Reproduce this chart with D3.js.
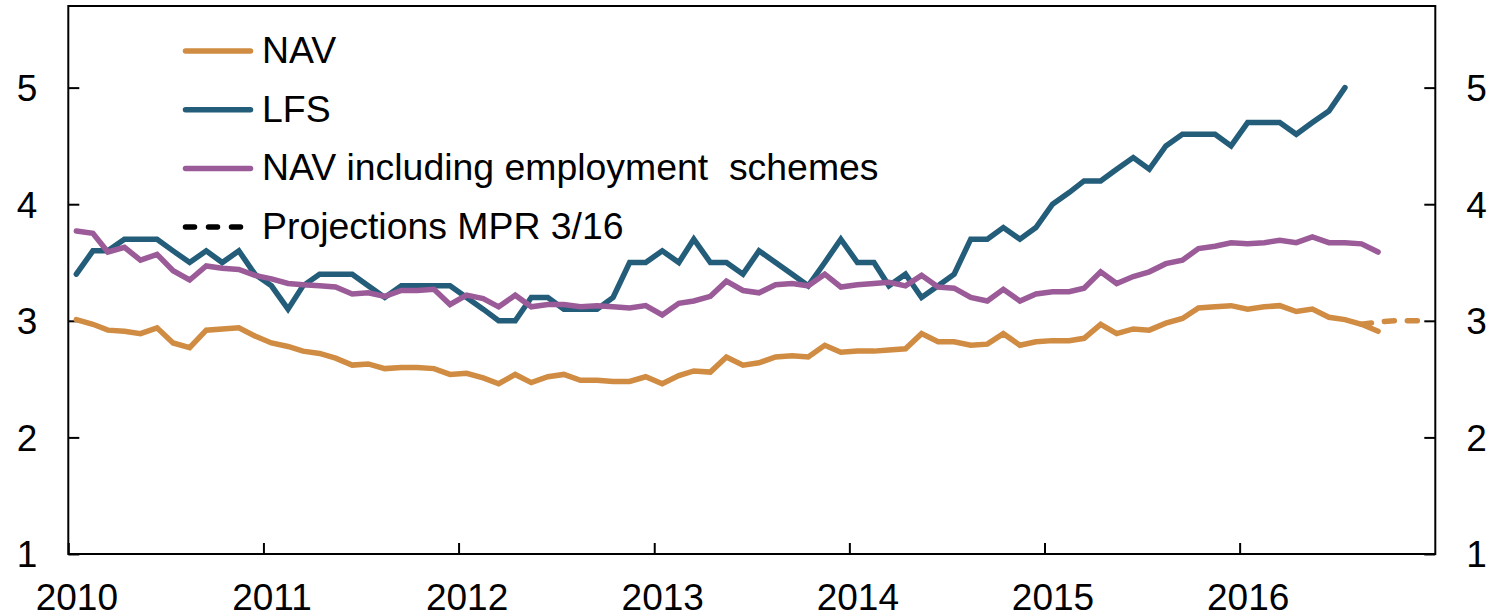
<!DOCTYPE html>
<html>
<head>
<meta charset="utf-8">
<script src="https://cdnjs.cloudflare.com/ajax/libs/d3/7.8.5/d3.min.js"></script>
<style>
  body { margin: 0; background: #fff; }
  svg { display: block; font-family: Arial, "Liberation Sans", sans-serif; }
</style>
</head>
<body>
<div id="chart"></div>
<script>
// monthly values, starting January 2010
var navValues = [3.01, 2.97, 2.92, 2.91, 2.89, 2.94, 2.81, 2.77, 2.92, 2.93, 2.94, 2.87,
  2.81, 2.78, 2.74, 2.72, 2.68, 2.62, 2.63, 2.59, 2.60, 2.60, 2.59, 2.54,
  2.55, 2.51, 2.46, 2.54, 2.47, 2.52, 2.54, 2.49, 2.49, 2.48, 2.48, 2.52,
  2.46, 2.53, 2.57, 2.56, 2.69, 2.62, 2.64, 2.69, 2.70, 2.69, 2.79, 2.73,
  2.74, 2.74, 2.75, 2.76, 2.89, 2.82, 2.82, 2.79, 2.80, 2.89, 2.79, 2.82,
  2.83, 2.83, 2.85, 2.97, 2.89, 2.93, 2.92, 2.98, 3.02, 3.11, 3.12, 3.13,
  3.10, 3.12, 3.13, 3.08, 3.10, 3.03, 3.01, 2.97, 2.91];

var lfsValues = [3.4, 3.6, 3.6, 3.7, 3.7, 3.7, 3.6, 3.5, 3.6, 3.5, 3.6, 3.4,
  3.3, 3.1, 3.3, 3.4, 3.4, 3.4, 3.3, 3.2, 3.3, 3.3, 3.3, 3.3,
  3.2, 3.1, 3.0, 3.0, 3.2, 3.2, 3.1, 3.1, 3.1, 3.2, 3.5, 3.5,
  3.6, 3.5, 3.7, 3.5, 3.5, 3.4, 3.6, 3.5, 3.4, 3.3, 3.5, 3.7,
  3.5, 3.5, 3.3, 3.4, 3.2, 3.3, 3.4, 3.7, 3.7, 3.8, 3.7, 3.8,
  4.0, 4.1, 4.2, 4.2, 4.3, 4.4, 4.3, 4.5, 4.6, 4.6, 4.6, 4.5,
  4.7, 4.7, 4.7, 4.6, 4.7, 4.8, 5.0];

var schemeValues = [3.77, 3.75, 3.59, 3.63, 3.52, 3.57, 3.43, 3.35, 3.47, 3.45, 3.44, 3.39,
  3.36, 3.32, 3.31, 3.30, 3.29, 3.23, 3.24, 3.21, 3.26, 3.26, 3.27, 3.14,
  3.22, 3.19, 3.12, 3.22, 3.12, 3.14, 3.14, 3.12, 3.13, 3.12, 3.11, 3.13,
  3.05, 3.15, 3.17, 3.21, 3.34, 3.26, 3.24, 3.31, 3.32, 3.30, 3.40, 3.29,
  3.31, 3.32, 3.33, 3.30, 3.39, 3.29, 3.28, 3.20, 3.17, 3.27, 3.17, 3.23,
  3.25, 3.25, 3.28, 3.42, 3.32, 3.38, 3.42, 3.49, 3.52, 3.62, 3.64, 3.67,
  3.66, 3.67, 3.69, 3.67, 3.72, 3.67, 3.67, 3.66, 3.59];

// projections MPR 3/16, August to December 2016
var projStart = 79;
var projValues = [2.97, 2.99, 3.00, 3.00, 3.00];

var yearTicks = [2010, 2011, 2012, 2013, 2014, 2015, 2016];
var yTicks = [1, 2, 3, 4, 5];

var legendNames = ["NAV", "LFS", "NAV including employment  schemes", "Projections MPR 3/16"];
var colors = ["#d08c42", "#235d7a", "#9a5b98", "#000000"];

var svgWidth = 1492;
var svgHeight = 615;

var margin = {
  top: 6,
  right: 56.7,
  bottom: 61,
  left: 68.3
};

var width = svgWidth - margin.left - margin.right;
var height = svgHeight - margin.top - margin.bottom;

var svg = d3.select("#chart")
  .append("svg")
  .attr("width", svgWidth)
  .attr("height", svgHeight);

var chartGroup = svg.append("g")
  .attr("transform", `translate(${margin.left}, ${margin.top})`);

var xScale = d3.scaleTime()
  .domain([new Date(2010, 0, 1), new Date(2017, 0, 1)])
  .range([0, width]);

var yScale = d3.scaleLinear()
  .domain([1, 5.7])
  .range([height, 0]);

// points sit in the middle of each month
function monthDate(i) {
  return new Date(2010, i, 16);
}

function toPoints(values, start) {
  return values.map(function(v, i) {
    return { date: monthDate(start + i), value: v };
  });
}

var line = d3.line()
  .x(d => xScale(d.date))
  .y(d => yScale(d.value));

var fontSize = "37px";
var lineWidth = 5.5;

// axes
var bottomAxis = d3.axisBottom(xScale)
  .tickValues(yearTicks.map(y => new Date(y, 0, 1)))
  .tickFormat(d3.timeFormat("%Y"))
  .tickSize(-11)
  .tickSizeOuter(0);

var leftAxis = d3.axisLeft(yScale)
  .tickValues(yTicks)
  .tickFormat(d3.format("d"))
  .tickSize(-11)
  .tickPadding(31)
  .tickSizeOuter(0);

var rightAxis = d3.axisRight(yScale)
  .tickValues(yTicks)
  .tickFormat(d3.format("d"))
  .tickSize(-11)
  .tickPadding(31)
  .tickSizeOuter(0);

var xAxisGroup = chartGroup.append("g")
  .attr("transform", `translate(0, ${height})`)
  .call(bottomAxis);

xAxisGroup.selectAll("text")
  .attr("y", 56)
  .attr("dy", 0)
  .attr("dx", 8);

var yAxisLeft = chartGroup.append("g")
  .call(leftAxis);

var yAxisRight = chartGroup.append("g")
  .attr("transform", `translate(${width}, 0)`)
  .call(rightAxis);

[xAxisGroup, yAxisLeft, yAxisRight].forEach(function(g) {
  g.select(".domain").remove();
  g.selectAll("line").attr("stroke", "#000").attr("stroke-width", 2);
  g.selectAll("text")
    .attr("fill", "#000")
    .style("font-size", fontSize)
    .style("font-family", "Arial, 'Liberation Sans', sans-serif");
});

yAxisLeft.selectAll("text").attr("dy", "0.35em");
yAxisRight.selectAll("text").attr("dy", "0.35em");

// frame
chartGroup.append("rect")
  .attr("x", 0)
  .attr("y", 0)
  .attr("width", width)
  .attr("height", height)
  .attr("fill", "none")
  .attr("stroke", "#000")
  .attr("stroke-width", 2);

// series lines
var series = [
  { values: toPoints(navValues, 0), color: colors[0] },
  { values: toPoints(lfsValues, 0), color: colors[1] },
  { values: toPoints(schemeValues, 0), color: colors[2] }
];

chartGroup.append("path")
  .datum(toPoints(projValues, projStart))
  .attr("d", line)
  .attr("fill", "none")
  .attr("stroke", colors[0])
  .attr("stroke-width", lineWidth)
  .attr("stroke-linecap", "round")
  .attr("stroke-dasharray", "10,13");

series.forEach(function(s) {
  chartGroup.append("path")
    .datum(s.values)
    .attr("d", line)
    .attr("fill", "none")
    .attr("stroke", s.color)
    .attr("stroke-width", lineWidth)
    .attr("stroke-linejoin", "miter")
    .attr("stroke-linecap", "round");
});

// legend
var legend = svg.append("g")
  .selectAll("g")
  .data(legendNames)
  .enter()
  .append("g")
  .attr("transform", (d, i) => `translate(0, ${51 + i * 58.7})`);

legend.append("line")
  .attr("x1", 185.5)
  .attr("x2", 250.5)
  .attr("y1", 0)
  .attr("y2", 0)
  .attr("stroke", (d, i) => colors[i])
  .attr("stroke-width", lineWidth)
  .attr("stroke-linecap", "round")
  .attr("stroke-dasharray", (d, i) => i === 3 ? "9,14" : null);

legend.append("text")
  .attr("x", 262)
  .attr("y", 12)
  .attr("fill", "#000")
  .style("font-size", "37.4px")
  .style("white-space", "pre")
  .text(d => d);
</script>
</body>
</html>
